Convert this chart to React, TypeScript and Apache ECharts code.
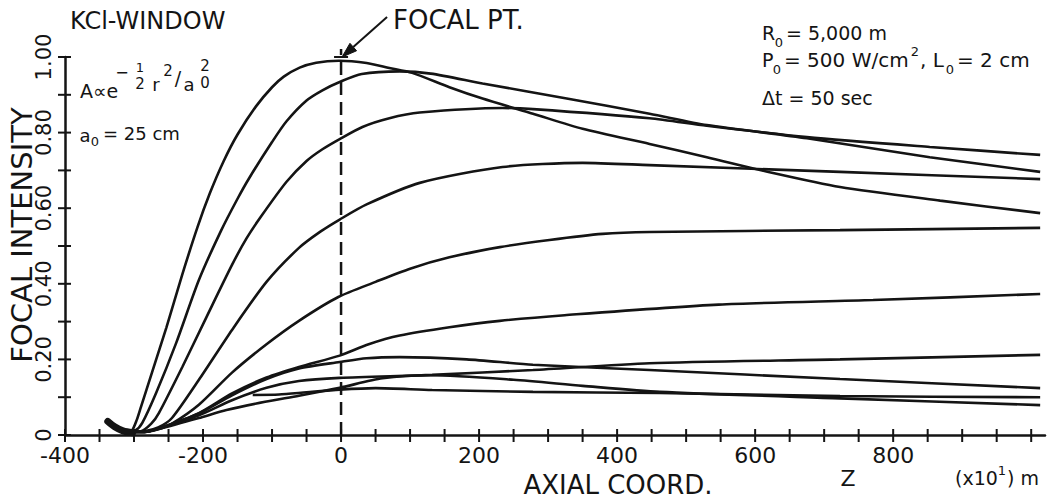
import React, { useEffect, useRef } from "react";
import * as echarts from "echarts";

// ---------- axis ticks & labels ----------
const Z_TICKS = [-400, -350, -300, -250, -200, -150, -100, -50, 0, 50, 100, 150, 200, 250, 300, 350, 400, 450, 500, 550, 600, 650, 700, 750, 800, 850, 900, 950, 1000];
const Z_LABELS = [-400, -200, 0, 200, 400, 600, 800];
const I_TICKS = [0, 0.1, 0.2, 0.3, 0.4, 0.5, 0.6, 0.7, 0.8, 0.9, 1.0];
const I_LABEL_VALUES = [0, 0.2, 0.4, 0.6, 0.8, 1.0];
const I_LABEL_TEXT = ["0", "0.20", "0.40", "0.60", "0.80", "1.00"];
const Z_MIN = -400;
const Z_MAX = 1020;

// ---------- curves: [axial coord z (x10 m), focal intensity] ----------
const curveA = [[-336, 0.035], [-325, 0.018], [-312, 0.008], [-303, 0.012], [-296, 0.04], [-290, 0.074], [-274, 0.165], [-253, 0.285], [-230, 0.425], [-208, 0.55], [-190, 0.64], [-170, 0.725], [-150, 0.795], [-123, 0.87], [-100, 0.92], [-83, 0.948], [-60, 0.972], [-36, 0.985], [-3, 0.99], [37, 0.984], [70, 0.971], [103, 0.958], [157, 0.92], [205, 0.89], [278, 0.85], [350, 0.81], [447, 0.77], [530, 0.735], [626, 0.693], [723, 0.656], [868, 0.62], [1013, 0.587]];
const curveB = [[-336, 0.035], [-325, 0.018], [-312, 0.008], [-298, 0.012], [-288, 0.032], [-268, 0.111], [-239, 0.243], [-206, 0.41], [-174, 0.54], [-150, 0.625], [-133, 0.68], [-100, 0.775], [-79, 0.83], [-50, 0.885], [-27, 0.912], [-2, 0.934], [30, 0.955], [85, 0.962], [130, 0.956], [205, 0.93], [327, 0.89], [447, 0.85], [530, 0.82], [675, 0.785], [853, 0.735], [1013, 0.696]];
const curveC = [[-336, 0.035], [-325, 0.018], [-312, 0.008], [-290, 0.01], [-275, 0.03], [-264, 0.058], [-230, 0.18], [-195, 0.312], [-158, 0.45], [-137, 0.52], [-116, 0.578], [-79, 0.67], [-50, 0.725], [-27, 0.756], [-2, 0.783], [31, 0.815], [70, 0.838], [114, 0.853], [234, 0.865], [278, 0.862], [447, 0.838], [530, 0.818], [675, 0.788], [853, 0.762], [1013, 0.741]];
const curveD = [[-336, 0.035], [-325, 0.018], [-312, 0.008], [-285, 0.01], [-265, 0.02], [-245, 0.045], [-206, 0.146], [-158, 0.278], [-108, 0.405], [-61, 0.495], [-30, 0.538], [-2, 0.57], [37, 0.61], [114, 0.667], [234, 0.709], [350, 0.72], [447, 0.714], [723, 0.696], [1013, 0.677]];
const curveE = [[-336, 0.035], [-325, 0.018], [-312, 0.008], [-285, 0.008], [-265, 0.015], [-245, 0.03], [-206, 0.08], [-158, 0.165], [-108, 0.24], [-61, 0.302], [-4, 0.365], [50, 0.405], [100, 0.44], [157, 0.47], [230, 0.497], [302, 0.516], [379, 0.532], [447, 0.537], [723, 0.542], [1013, 0.548]];
const curveF = [[-336, 0.035], [-325, 0.018], [-312, 0.008], [-285, 0.008], [-260, 0.02], [-206, 0.058], [-158, 0.11], [-108, 0.152], [-61, 0.18], [-2, 0.21], [40, 0.24], [85, 0.263], [157, 0.285], [230, 0.302], [324, 0.317], [547, 0.345], [771, 0.357], [1013, 0.373]];
const curveG = [[-336, 0.035], [-325, 0.018], [-312, 0.008], [-285, 0.008], [-260, 0.02], [-206, 0.057], [-158, 0.105], [-108, 0.148], [-61, 0.176], [-2, 0.193], [37, 0.203], [85, 0.206], [182, 0.2], [278, 0.186], [447, 0.172], [723, 0.148], [1013, 0.124]];
const curveH = [[-336, 0.035], [-325, 0.018], [-312, 0.008], [-285, 0.008], [-260, 0.019], [-206, 0.052], [-158, 0.092], [-108, 0.125], [-61, 0.143], [-2, 0.151], [132, 0.159], [278, 0.172], [447, 0.19], [723, 0.2], [1013, 0.212]];
const curveI = [[-336, 0.035], [-325, 0.018], [-312, 0.008], [-285, 0.008], [-260, 0.018], [-206, 0.045], [-166, 0.066], [-110, 0.088], [-61, 0.104], [-2, 0.125], [60, 0.15], [130, 0.158], [250, 0.146], [350, 0.13], [462, 0.114], [723, 0.097], [1013, 0.079]];
const curveJ = [[-128, 0.106], [-90, 0.107], [-50, 0.113], [-2, 0.12], [50, 0.124], [132, 0.119], [278, 0.114], [462, 0.111], [723, 0.103], [1013, 0.1]];
const startBundle = [[-338, 0.036], [-328, 0.022], [-316, 0.011], [-302, 0.006]];
const focalPoint = [[0, 1.0]];

const CURVES = [curveA, curveB, curveC, curveD, curveE, curveF, curveG, curveH, curveI, curveJ];

const FONT = '"DejaVu Sans", "Liberation Sans", sans-serif';
const INK = "#141414";

function txt(text: string, x: number, y: number, size: number, align = "left", rotation = 0) {
  return {
    type: "text",
    x,
    y,
    rotation,
    silent: true,
    z: 10,
    style: {
      text,
      fill: INK,
      font: `${size}px ${FONT}`,
      align,
      verticalAlign: "middle",
      textAlign: align,
      textVerticalAlign: "middle",
    },
  };
}

export default function App() {
  const ref = useRef<HTMLDivElement>(null);

  useEffect(() => {
    if (!ref.current) return;
    const chart = echarts.init(ref.current, null, { renderer: "svg" });

    const lineSeries = CURVES.map((d, i) => ({
      name: "curve" + i,
      type: "line",
      data: d,
      showSymbol: false,
      symbol: "none",
      smooth: 0.25,
      silent: true,
      z: 3,
      lineStyle: { color: INK, width: 2.6 },
    }));

    // cross-shaped ticks ("+") on both axes: [x, y, kind] kind 0 = x-axis tick, 1 = y-axis tick
    const tickMarks = [
      ...Z_TICKS.map((z) => [z, 0, 0]),
      ...I_TICKS.map((v) => [Z_MIN, v, 1]),
    ];

    const option: any = {
      animation: false,
      backgroundColor: "#ffffff",
      grid: { left: 65, right: 4, top: 57, bottom: 67, containLabel: false, outerBoundsMode: "none" },
      xAxis: {
        type: "value",
        min: Z_MIN,
        max: Z_MAX,
        position: "bottom",
        axisLine: { show: true, onZero: false, lineStyle: { color: INK, width: 2.5 } },
        axisTick: { show: false },
        axisLabel: {
          show: true,
          customValues: Z_LABELS,
          formatter: (v: number) => String(v),
          margin: 9,
          color: INK,
          fontSize: 22,
          fontFamily: FONT,
        },
        splitLine: { show: false },
      },
      yAxis: {
        type: "value",
        min: 0,
        max: 1.0,
        position: "left",
        axisLine: { show: true, onZero: false, lineStyle: { color: INK, width: 2.5 } },
        axisTick: { show: false },
        axisLabel: {
          show: true,
          customValues: I_LABEL_VALUES,
          rotate: 90,
          formatter: (v: number) => {
            const i = I_LABEL_VALUES.findIndex((t) => Math.abs(t - v) < 1e-6);
            return i >= 0 ? I_LABEL_TEXT[i] : "";
          },
          margin: 11,
          color: INK,
          fontSize: 21,
          fontFamily: FONT,
        },
        splitLine: { show: false },
      },
      series: [
        ...lineSeries,
        {
          name: "start",
          type: "line",
          data: startBundle,
          showSymbol: false,
          symbol: "none",
          smooth: 0.3,
          silent: true,
          z: 3,
          lineStyle: { color: INK, width: 7, cap: "round" },
        },
        {
          name: "ticks",
          type: "custom",
          coordinateSystem: "cartesian2d",
          silent: true,
          clip: false,
          z: 4,
          data: tickMarks,
          renderItem: (params: any, api: any) => {
            const p = api.coord([api.value(0), api.value(1)]);
            const kind = api.value(2);
            const shape =
              kind === 0
                ? { x1: p[0], y1: p[1] - 6, x2: p[0], y2: p[1] + 7 }
                : { x1: p[0] - 7, y1: p[1], x2: p[0] + 6, y2: p[1] };
            return { type: "line", shape, style: { stroke: INK, lineWidth: 2, fill: null } };
          },
        },
        {
          name: "focal",
          type: "custom",
          coordinateSystem: "cartesian2d",
          silent: true,
          clip: false,
          z: 2,
          data: focalPoint,
          renderItem: (params: any, api: any) => {
            const top = api.coord([api.value(0), api.value(1)]);
            const bottom = api.coord([api.value(0), 0]);
            const tipX = top[0] + 1;
            const tipY = top[1];
            const tailX = tipX + 45;
            const tailY = tipY - 40;
            const len = Math.hypot(tailX - tipX, tailY - tipY);
            const ux = (tailX - tipX) / len;
            const uy = (tailY - tipY) / len;
            const bx = tipX + ux * 15;
            const by = tipY + uy * 15;
            const px = -uy;
            const py = ux;
            return {
              type: "group",
              children: [
                {
                  type: "line",
                  shape: { x1: bottom[0], y1: bottom[1], x2: top[0], y2: top[1] - 8 },
                  style: { stroke: INK, lineWidth: 2.5, lineDash: [13, 7], fill: null },
                },
                {
                  type: "line",
                  shape: { x1: top[0] - 7, y1: top[1], x2: top[0] + 7, y2: top[1] },
                  style: { stroke: INK, lineWidth: 2, fill: null },
                },
                {
                  type: "line",
                  shape: { x1: bx, y1: by, x2: tailX, y2: tailY },
                  style: { stroke: INK, lineWidth: 2, fill: null },
                },
                {
                  type: "polygon",
                  shape: { points: [[tipX, tipY], [bx + px * 5, by + py * 5], [bx - px * 5, by - py * 5]] },
                  style: { fill: INK, stroke: INK, lineWidth: 1 },
                },
              ],
            };
          },
        },
      ],
      graphic: [
        txt("KCl-WINDOW", 70, 21, 24),
        // A ∝ e^(-1/2 r^2 / a0^2)
        txt("A\u221De", 80, 91, 19),
        txt("\u2212", 122, 72, 16, "center"),
        txt("1", 140, 67, 13, "center"),
        txt("2", 140, 84, 15, "center"),
        txt("r", 156, 84, 18, "center"),
        txt("2", 168, 71, 15, "center"),
        txt("/", 178, 78, 19, "center"),
        txt("a", 189, 84, 18, "center"),
        txt("2", 205, 66, 15, "center"),
        txt("0", 205, 83, 15, "center"),
        // a0 = 25 cm
        txt("a", 85, 135, 18, "center"),
        txt("0", 95, 141, 13, "center"),
        txt("= 25 cm", 103, 133, 18),
        // focal point label
        txt("FOCAL PT.", 393, 20, 26),
        // parameters
        txt("R", 762, 33, 19),
        txt("0", 779, 42, 13, "center"),
        txt("= 5,000 m", 786, 33, 19),
        txt("P", 762, 60, 19),
        txt("0", 777, 69, 13, "center"),
        txt("= 500 W/cm", 784, 60, 20),
        txt("2", 915, 51, 13, "center"),
        txt(", L", 920, 60, 20),
        txt("0", 950, 69, 13, "center"),
        txt("= 2 cm", 957, 60, 20),
        txt("\u0394t = 50 sec", 762, 98, 19),
        // axis titles
        txt("FOCAL INTENSITY", 22, 235, 29, "center", Math.PI / 2),
        txt("AXIAL COORD.", 618, 485, 26, "center"),
        txt("Z", 848, 478, 22, "center"),
        txt("(x10", 955, 478, 19),
        txt("1", 1002, 470, 13, "center"),
        txt(") m", 1007, 478, 19),
      ],
    };

    chart.setOption(option);
    return () => {
      chart.dispose();
    };
  }, []);

  return (
    <div
      ref={ref}
      style={{ position: "fixed", left: 0, top: 0, width: 1049, height: 502, background: "#ffffff" }}
    />
  );
}
